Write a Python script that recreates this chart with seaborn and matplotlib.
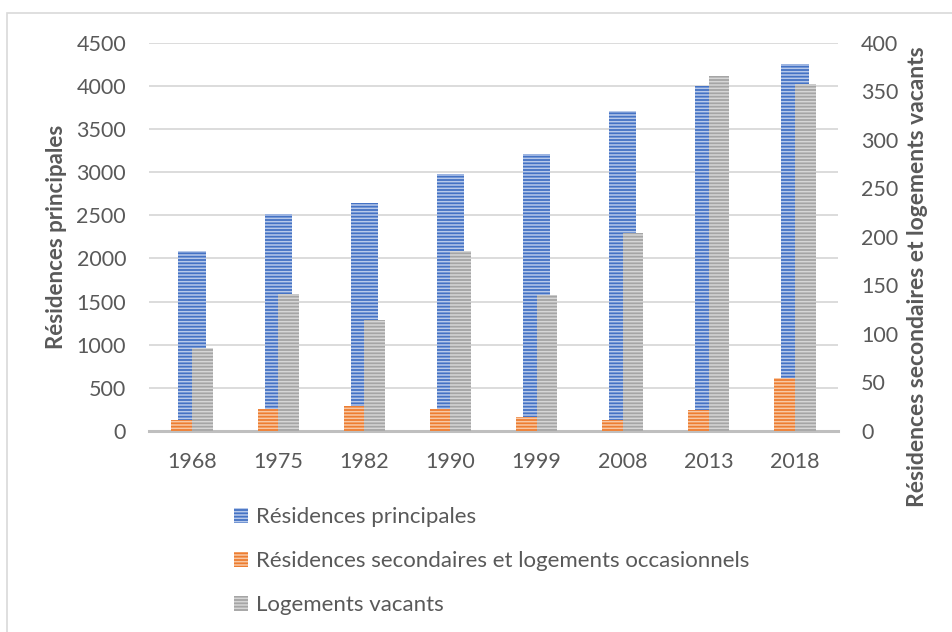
import matplotlib
matplotlib.use("Agg")
import matplotlib.pyplot as plt
from matplotlib.patches import Patch, Rectangle
import pandas as pd
import seaborn as sns

# Logements par catégorie, recensements 1968-2018
years = ["1968", "1975", "1982", "1990", "1999", "2008", "2013", "2018"]
residences_principales = [2083, 2519, 2646, 2977, 3213, 3711, 4003, 4254]
residences_secondaires = [11, 23, 26, 23, 14, 11, 22, 55]
logements_vacants = [85, 141, 114, 185, 140, 204, 366, 357]

label_rp = "Résidences principales"
label_rs = "Résidences secondaires et logements occasionnels"
label_lv = "Logements vacants"

left_ticks = list(range(0, 4501, 500))
right_ticks = list(range(0, 401, 50))

BLUE, BLUE_L = "#4472C4", "#B7C9EA"
ORANGE, ORANGE_L = "#ED7D31", "#F8C8A4"
GREY, GREY_L = "#A5A5A5", "#D6D6D6"
TEXT = "#595959"
HATCH = "-----"

sns.set_theme(style="white")
plt.rcParams["font.family"] = ["Lato", "DejaVu Sans"]
plt.rcParams["hatch.linewidth"] = 1.1

W, H = 953, 632
fig = plt.figure(figsize=(W / 100, H / 100), dpi=100)
fig.patch.set_facecolor("white")

# chart-area frame
fig.add_artist(Rectangle((7 / W, -0.1), 1.2, 1.1 - 13 / H, transform=fig.transFigure,
                         fill=False, edgecolor="#D9D9D9", linewidth=1.2))

x0, x1 = 149 / W, 838 / W
y_top, y_bot = 1 - 42.7 / H, 1 - 431 / H
ax = fig.add_axes([x0, y_bot, x1 - x0, y_top - y_bot])

df_main = pd.DataFrame({"annee": years, "valeur": residences_principales})
sns.barplot(data=df_main, x="annee", y="valeur", color=BLUE, saturation=1,
            width=0.317, ax=ax, edgecolor=BLUE_L, linewidth=0, hatch=HATCH)

ax2 = ax.twinx()
df_sec = pd.DataFrame({
    "annee": years * 2,
    "serie": [label_rs] * len(years) + [label_lv] * len(years),
    "valeur": residences_secondaires + logements_vacants,
})
sns.barplot(data=df_sec, x="annee", y="valeur", hue="serie",
            palette=[ORANGE, GREY], saturation=1, width=0.48, ax=ax2,
            legend=False, linewidth=0)
for cont, hc in zip(ax2.containers, [ORANGE_L, GREY_L]):
    for bar in cont:
        bar.set_hatch(HATCH)
        bar.set_edgecolor(hc)
        bar.set_linewidth(0)

ax.set_xlim(-0.5, len(years) - 0.5)
ax.set_ylim(0, 4500)
ax2.set_ylim(0, 400)
ax.set_yticks(left_ticks)
ax2.set_yticks(right_ticks)

ax.set_axisbelow(True)
ax.grid(axis="y", color="#D9D9D9", linewidth=1.3)
ax.grid(axis="x", visible=False)
ax.set_facecolor("none")

for s in ["top", "left", "right"]:
    ax.spines[s].set_visible(False)
    ax2.spines[s].set_visible(False)
ax2.spines["bottom"].set_visible(False)
ax.spines["bottom"].set_color("#BFBFBF")
ax.spines["bottom"].set_linewidth(2.2)

ax.set_xlabel("")
ax.set_ylabel("")
ax2.set_ylabel("")
ax.tick_params(axis="y", length=0, pad=16.5, labelsize=15.5, labelcolor=TEXT)
ax.tick_params(axis="x", length=0, pad=15, labelsize=15.5, labelcolor=TEXT)
ax2.tick_params(axis="y", length=0, pad=16.5, labelsize=15.5, labelcolor=TEXT)

fig.text(57 / W, 1 - 237 / H, label_rp, rotation=90, ha="center", va="center",
         fontsize=16, fontweight="bold", color=TEXT)
fig.text(918 / W, 1 - 277 / H, "Résidences secondaires et logements vacants",
         rotation=90, ha="center", va="center",
         fontsize=16.5, fontweight="bold", color=TEXT)

handles = [
    Patch(facecolor=BLUE, edgecolor=BLUE_L, hatch=HATCH, linewidth=0, label=label_rp),
    Patch(facecolor=ORANGE, edgecolor=ORANGE_L, hatch=HATCH, linewidth=0, label=label_rs),
    Patch(facecolor=GREY, edgecolor=GREY_L, hatch=HATCH, linewidth=0, label=label_lv),
]
leg = fig.legend(handles=handles, loc="upper left", bbox_to_anchor=(225 / W, 1 - 498 / H),
                 frameon=False, fontsize=16, labelcolor=TEXT, handlelength=0.65,
                 handleheight=0.65, handletextpad=0.35, labelspacing=1.08, borderaxespad=0)

fig.savefig("out.png", dpi=100, facecolor="white")
